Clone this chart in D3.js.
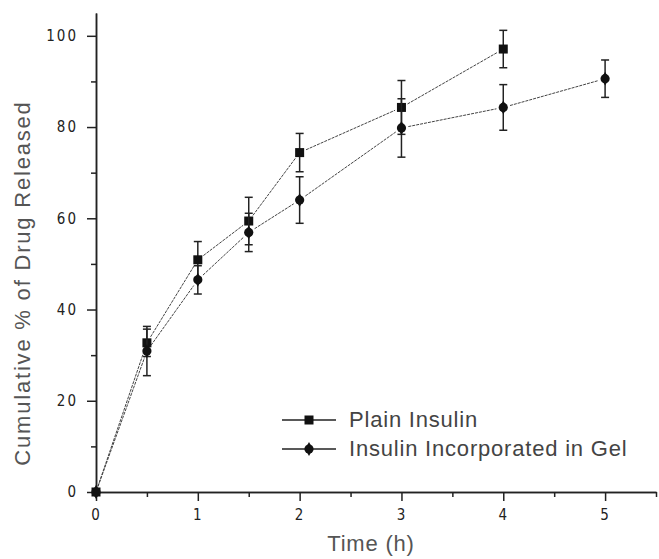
<!DOCTYPE html>
<html>
<head>
<meta charset="utf-8">
<script src="https://cdn.jsdelivr.net/npm/d3@7"></script>
<style>
  body { margin: 0; background: #fff; }
  .tick text { font-family: "DejaVu Sans Condensed", "Liberation Sans", sans-serif; font-size: 15px; letter-spacing: 2px; fill: #222; }
  .axis path, .axis line { stroke: #222; stroke-width: 1.5; }
  .title { font-family: "Liberation Sans", Arial, sans-serif; font-size: 22px; letter-spacing: 0.8px; fill: #555; }
</style>
</head>
<body>
<svg id="chart"></svg>
<script>
var viewWidth = 659;
var viewHeight = 559;
var margin = {top: 13, right: 3, bottom: 67, left: 96};
var width = viewWidth - margin.left - margin.right;
var height = viewHeight - margin.top - margin.bottom;

// data
var plainTime = [0, 0.5, 1, 1.5, 2, 3, 4];
var plainValue = [0, 32.7, 50.9, 59.4, 74.4, 84.3, 97.1];
var plainErr = [0, 3.0, 4.0, 5.2, 4.2, 5.9, 4.1];

var gelTime = [0, 0.5, 1, 1.5, 2, 3, 4, 5];
var gelValue = [0, 30.9, 46.5, 56.9, 64.0, 79.8, 84.3, 90.6];
var gelErr = [0, 5.4, 3.1, 4.2, 5.1, 6.4, 5.0, 4.1];

var seriesNames = ["Plain Insulin", "Insulin Incorporated in Gel"];
var xMajor = [0, 1, 2, 3, 4, 5];
var xMinor = [0.5, 1.5, 2.5, 3.5, 4.5, 5.5];
var yMajor = [0, 20, 40, 60, 80, 100];
var yMinor = [10, 30, 50, 70, 90];

var svg = d3.select("#chart")
    .attr("width", viewWidth)
    .attr("height", viewHeight);

var g = svg.append("g")
    .attr("transform", "translate(" + margin.left + "," + margin.top + ")");

var x = d3.scaleLinear().domain([0, 5.5]).range([0, width]);
var y = d3.scaleLinear().domain([0, 105]).range([height, 0]);

// axes
g.append("g")
    .attr("class", "axis")
    .attr("transform", "translate(0," + height + ")")
    .call(d3.axisBottom(x).tickValues(xMinor).tickSize(5).tickFormat("").tickSizeOuter(0));
g.append("g")
    .attr("class", "axis")
    .attr("transform", "translate(0," + height + ")")
    .call(d3.axisBottom(x).tickValues(xMajor).tickSize(9).tickPadding(8).tickSizeOuter(0).tickFormat(d3.format("d")));

g.append("g")
    .attr("class", "axis")
    .call(d3.axisLeft(y).tickValues(yMinor).tickSize(5).tickFormat("").tickSizeOuter(0));
g.append("g")
    .attr("class", "axis")
    .call(d3.axisLeft(y).tickValues(yMajor).tickSize(9).tickPadding(9).tickSizeOuter(0).tickFormat(d3.format("d")));

// axis titles
svg.append("text")
    .attr("class", "title")
    .attr("x", 371)
    .attr("y", 551)
    .style("text-anchor", "middle")
    .text("Time (h)");

svg.append("text")
    .attr("class", "title")
    .attr("transform", "translate(30,283) rotate(-90)")
    .style("text-anchor", "middle")
    .style("letter-spacing", "1.8px")
    .text("Cumulative % of Drug Released");

function marker(sel, kind) {
  if (kind == 0) {
    sel.append("rect")
      .attr("x", -4.5).attr("y", -4.5)
      .attr("width", 9).attr("height", 9)
      .attr("fill", "#111");
  } else {
    sel.append("path")
      .attr("d", d3.symbol().type(d3.symbolDiamond).size(55)())
      .attr("fill", "#111");
    sel.append("circle").attr("r", 4.6).attr("fill", "#111");
  }
}

function drawSeries(times, values, errs, kind) {
  var pts = times.map(function(t, i) {
    return {px: x(t), py: y(values[i]), e: errs[i]};
  });

  // connecting lines, stopping short of the markers
  var gap = 7;
  for (var i = 1; i < pts.length; i++) {
    var a = pts[i - 1], b = pts[i];
    var dx = b.px - a.px, dy = b.py - a.py;
    var len = Math.sqrt(dx * dx + dy * dy);
    var ux = dx / len, uy = dy / len;
    var g0 = i == 1 ? 2 : gap;
    g.append("line")
      .attr("x1", a.px + ux * g0).attr("y1", a.py + uy * g0)
      .attr("x2", b.px - ux * gap).attr("y2", b.py - uy * gap)
      .attr("stroke", "#444")
      .attr("stroke-width", 1)
      .attr("stroke-dasharray", "3,1");
  }

  // error bars
  var eb = g.selectAll(".err" + kind)
    .data(pts.filter(function(d) { return d.e > 0; }))
    .enter().append("g")
    .attr("class", "err" + kind)
    .attr("stroke", "#222")
    .attr("stroke-width", 1.5);
  eb.append("line")
    .attr("x1", function(d) { return d.px; })
    .attr("x2", function(d) { return d.px; })
    .attr("y1", function(d) { return d.py - (y(0) - y(d.e)); })
    .attr("y2", function(d) { return d.py + (y(0) - y(d.e)); });
  [-1, 1].forEach(function(s) {
    eb.append("line")
      .attr("x1", function(d) { return d.px - 4; })
      .attr("x2", function(d) { return d.px + 4; })
      .attr("y1", function(d) { return d.py + s * (y(0) - y(d.e)); })
      .attr("y2", function(d) { return d.py + s * (y(0) - y(d.e)); });
  });

  g.selectAll(".pt" + kind)
    .data(pts)
    .enter().append("g")
    .attr("class", "pt" + kind)
    .attr("transform", function(d) { return "translate(" + d.px + "," + d.py + ")"; })
    .each(function() { marker(d3.select(this), kind); });
}

drawSeries(plainTime, plainValue, plainErr, 0);
drawSeries(gelTime, gelValue, gelErr, 1);

// legend
var legend = svg.append("g");
seriesNames.forEach(function(name, i) {
  var ly = 420 + i * 29;
  legend.append("line")
    .attr("x1", 282).attr("x2", 336)
    .attr("y1", ly).attr("y2", ly)
    .attr("stroke", "#222").attr("stroke-width", 1.5);
  var m = legend.append("g").attr("transform", "translate(309," + ly + ")");
  marker(m, i);
  legend.append("text")
    .attr("class", "title")
    .attr("x", 349)
    .attr("y", ly + 7)
    .style("fill", "#444")
    .text(name);
});
</script>
</body>
</html>
